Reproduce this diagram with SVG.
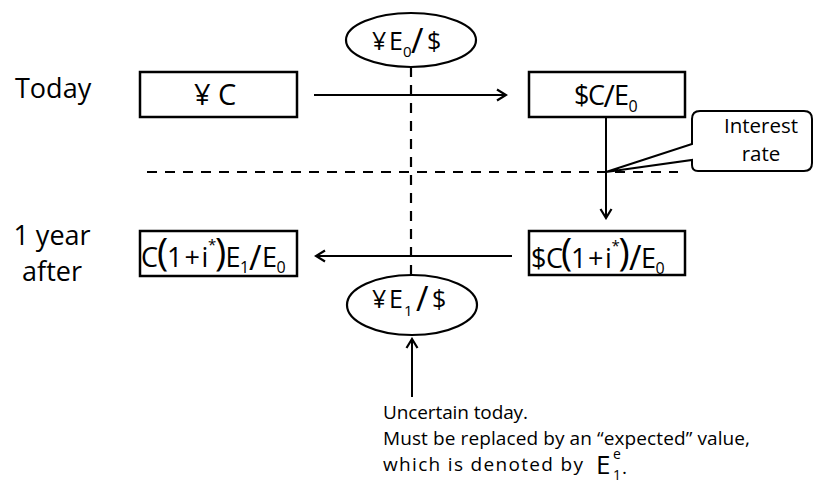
<svg xmlns="http://www.w3.org/2000/svg" width="825" height="492" viewBox="0 0 825 492">
<style>
  .t{font-family:"Open Sans","Liberation Sans",sans-serif;fill:#000}
  .box{fill:#fff;stroke:#000;stroke-width:2.5}
  .ell{fill:#fff;stroke:#000;stroke-width:2.2}
  .ln{stroke:#000;stroke-width:2;fill:none}
  .dash{stroke:#000;stroke-width:2.2;fill:none;stroke-dasharray:10 8}
  .m{font-size:27px}
  .p{font-size:38px}
  .sl{font-size:34px}
  .sb{font-size:16px}
  .st{font-size:15px}
</style>
<defs>
  <marker id="ah" markerUnits="userSpaceOnUse" markerWidth="14" markerHeight="14" viewBox="0 0 14 14" refX="12" refY="7" orient="auto">
    <path d="M3,1.5 L12,7 L3,12.5" fill="none" stroke="#000" stroke-width="2.2"/>
  </marker>
</defs>

<g id="connectors">
  <line class="dash" x1="147" y1="172" x2="678" y2="172"/>
  <line class="dash" x1="411" y1="67" x2="411" y2="275"/>
  <line class="ln" x1="314" y1="95" x2="506" y2="95" marker-end="url(#ah)"/>
  <line class="ln" x1="606" y1="118" x2="606" y2="218" marker-end="url(#ah)"/>
  <line class="ln" x1="512" y1="256" x2="316" y2="256" marker-end="url(#ah)"/>
  <line class="ln" x1="412" y1="397" x2="412" y2="339" marker-end="url(#ah)"/>
</g>

<g id="label-today"><text class="t" x="15" y="98" font-size="27">Today</text></g>
<g id="label-after">
  <text class="t" x="52" y="245" font-size="27" text-anchor="middle">1 year</text>
  <text class="t" x="52" y="281" font-size="27" text-anchor="middle">after</text>
</g>

<g id="rate-top">
  <ellipse class="ell" cx="411" cy="40" rx="65" ry="27"/>
  <text class="t" font-size="25">
    <tspan x="372" y="50">¥</tspan><tspan x="389" y="50">E</tspan><tspan x="403" y="57" font-size="15">0</tspan><tspan x="411" y="53" font-size="34">/</tspan><tspan x="427" y="50">$</tspan>
  </text>
</g>

<g id="rate-bottom">
  <ellipse class="ell" cx="412" cy="305" rx="65" ry="30"/>
  <text class="t" font-size="25">
    <tspan x="372" y="308">¥</tspan><tspan x="389" y="308">E</tspan><tspan x="404" y="316" font-size="15">1</tspan><tspan x="416" y="311" font-size="34">/</tspan><tspan x="432" y="308">$</tspan>
  </text>
</g>

<g id="yen-today">
  <rect class="box" x="140" y="72" width="157" height="45"/>
  <text class="t" font-size="29"><tspan x="194" y="105">¥</tspan><tspan x="218" y="105">C</tspan></text>
</g>

<g id="dollar-today">
  <rect class="box" x="529" y="72" width="156" height="45"/>
  <text class="t" font-size="27"><tspan x="574" y="105">$</tspan><tspan x="588" y="105">C</tspan><tspan x="603.5" y="107" font-size="31">/</tspan><tspan x="614" y="105">E</tspan><tspan class="sb" x="628.5" y="112">0</tspan></text>
</g>

<g id="dollar-after">
  <rect class="box" x="529" y="231" width="156" height="44"/>
  <text class="t m"><tspan x="531" y="268">$</tspan><tspan x="546" y="268">C</tspan><tspan class="p" x="561" y="266">(</tspan><tspan x="571" y="268">1</tspan><tspan x="588" y="268">+</tspan><tspan x="605" y="268">i</tspan><tspan class="st" x="611.5" y="251">*</tspan><tspan class="p" x="618.5" y="266">)</tspan><tspan class="sl" x="629" y="270">/</tspan><tspan x="641" y="268">E</tspan><tspan class="sb" x="655.5" y="274">0</tspan></text>
</g>

<g id="yen-after">
  <rect class="box" x="140" y="231" width="157" height="45"/>
  <text class="t m"><tspan x="141" y="267">C</tspan><tspan class="p" x="157" y="266">(</tspan><tspan x="167" y="267">1</tspan><tspan x="184.5" y="267">+</tspan><tspan x="201.5" y="267">i</tspan><tspan class="st" x="208" y="250">*</tspan><tspan class="p" x="215" y="266">)</tspan><tspan x="225.5" y="267">E</tspan><tspan class="sb" x="240" y="273">1</tspan><tspan class="sl" x="249" y="270">/</tspan><tspan x="262" y="267">E</tspan><tspan class="sb" x="276.5" y="273">0</tspan></text>
</g>

<g id="callout">
  <path class="ln" stroke-width="2.2" fill="#fff" d="M700,111 H804 Q812,111 812,119 V163 Q812,171 804,171 H698 Q692,171 692,165 V160 L606,172 L692,144 V119 Q692,111 700,111 Z"/>
  <text class="t" font-size="20.5" text-anchor="middle"><tspan x="761" y="133">Interest</tspan><tspan x="761" y="161">rate</tspan></text>
</g>

<g id="note">
  <text class="t" font-size="19" x="383" y="419" textLength="145" lengthAdjust="spacing">Uncertain today.</text>
  <text class="t" font-size="19" x="383" y="445" textLength="367" lengthAdjust="spacing">Must be replaced by an “expected” value,</text>
  <text class="t" font-size="19" x="383" y="471" textLength="200" lengthAdjust="spacing">which is denoted by</text>
  <text class="t"><tspan x="596" y="474" font-size="26">E</tspan><tspan x="613" y="459" font-size="14">e</tspan><tspan x="613" y="480" font-size="14">1</tspan><tspan x="622" y="474" font-size="19">.</tspan></text>
</g>
</svg>
